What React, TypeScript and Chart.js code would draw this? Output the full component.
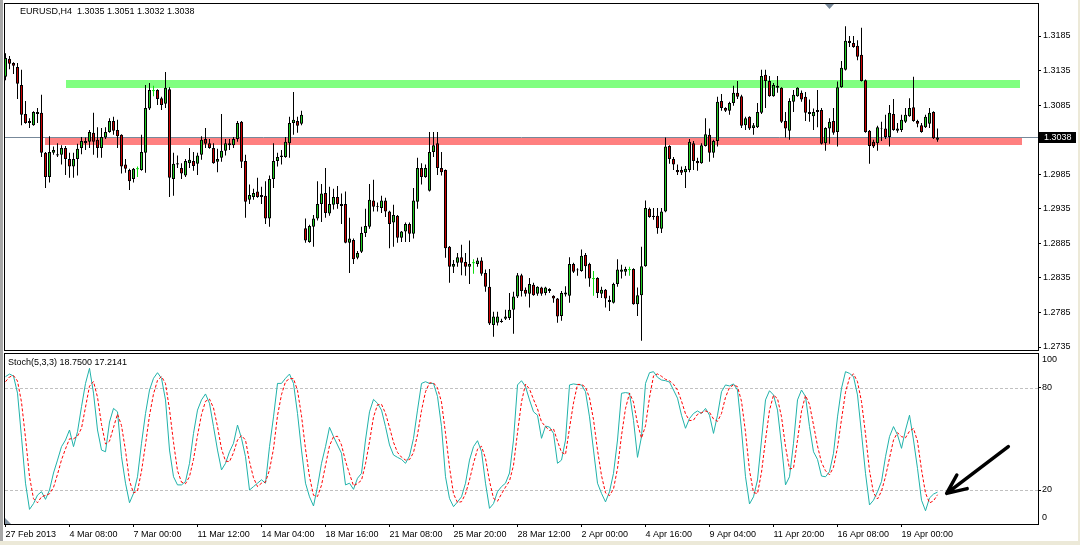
import React, { useEffect, useRef } from "react";
import { Chart, registerables } from "chart.js";
Chart.register(...registerables);

const FONT = '"Liberation Sans", Arial, sans-serif';
const SYMBOL = "EURUSD,H4";
const STOCH_NAME = "Stoch(5,3,3)";

const opens = [
  1.3126,1.3152,1.3146,1.3140,1.3114,1.3072,1.3062,1.3056,1.3075,1.3074,
  1.3016,1.2981,1.3016,1.3014,1.3013,1.3023,1.3007,1.2996,1.3007,1.3023,
  1.3033,1.3032,1.3045,1.3035,1.3023,1.3038,1.3046,1.3062,1.3049,1.3042,
  1.2999,1.2991,1.2978,1.2993,1.2991,1.3016,1.3080,1.3106,1.3107,1.3095,
  1.3087,1.3108,1.2978,1.3001,1.2994,1.2983,1.3001,1.3004,1.3000,1.3013,
  1.3036,1.3030,1.3023,1.3003,1.3009,1.3019,1.3030,1.3027,1.3036,1.3061,
  1.3004,1.2948,1.2952,1.2960,1.2955,1.2954,1.2921,1.2978,1.3004,1.3010,
  1.3010,1.3030,1.3059,1.3062,1.3058,1.2907,1.2887,1.2909,1.2921,1.2942,
  1.2958,1.2928,1.2941,1.2952,1.2942,1.2942,1.2886,1.2890,1.2864,1.2873,
  1.2900,1.2909,1.2947,1.2939,1.2936,1.2947,1.2931,1.2915,1.2925,1.2893,
  1.2902,1.2913,1.2899,1.2945,1.2994,1.2981,1.2961,1.3017,1.3030,1.2994,
  1.2991,1.2880,1.2851,1.2857,1.2865,1.2858,1.2851,1.2857,1.2855,1.2860,
  1.2842,1.2822,1.2767,1.2770,1.2771,1.2776,1.2777,1.2789,1.2808,1.2839,
  1.2818,1.2812,1.2825,1.2812,1.2821,1.2813,1.2819,1.2809,1.2805,1.2780,
  1.2811,1.2809,1.2855,1.2847,1.2845,1.2868,1.2855,1.2834,1.2835,1.2812,
  1.2818,1.2803,1.2799,1.2826,1.2844,1.2844,1.2847,1.2848,1.2797,1.2810,
  1.2852,1.2935,1.2925,1.2925,1.2906,1.2931,1.3026,1.3007,1.2991,1.2991,
  1.2988,1.2991,1.3030,1.3004,1.3001,1.3026,1.3042,1.3016,1.3033,1.3091,
  1.3081,1.3077,1.3088,1.3103,1.3098,1.3056,1.3068,1.3052,1.3053,1.3074,
  1.3129,1.3120,1.3098,1.3110,1.3110,1.3062,1.3048,1.3090,1.3098,1.3103,
  1.3097,1.3075,1.3069,1.3078,1.3078,1.3030,1.3051,1.3062,1.3046,1.3111,
  1.3136,1.3178,1.3175,1.3171,1.3158,1.3121,1.3048,1.3032,1.3030,1.3052,
  1.3051,1.3039,1.3072,1.3048,1.3049,1.3061,1.3069,1.3082,1.3062,1.3056,
  1.3053,1.3058,1.3075,1.3035
];
const highs = [
  1.3160,1.3156,1.3147,1.3146,1.3136,1.3091,1.3066,1.3076,1.3081,1.3100,
  1.3017,1.3040,1.3025,1.3030,1.3027,1.3026,1.3016,1.3016,1.3029,1.3039,
  1.3038,1.3049,1.3074,1.3053,1.3052,1.3053,1.3066,1.3068,1.3064,1.3043,
  1.3007,1.2993,1.2994,1.2996,1.3042,1.3114,1.3117,1.3113,1.3108,1.3097,
  1.3133,1.3111,1.3016,1.3012,1.3001,1.3007,1.3023,1.3017,1.3016,1.3040,
  1.3052,1.3036,1.3030,1.3022,1.3072,1.3036,1.3036,1.3039,1.3062,1.3062,
  1.3013,1.2970,1.2964,1.2980,1.2967,1.2975,1.2983,1.3030,1.3016,1.3020,
  1.3039,1.3068,1.3104,1.3068,1.3077,1.2921,1.2912,1.2926,1.2975,1.2971,
  1.2994,1.2967,1.2964,1.2968,1.2957,1.2960,1.2922,1.2892,1.2874,1.2909,
  1.2935,1.2971,1.2977,1.2944,1.2954,1.2951,1.2932,1.2941,1.2926,1.2903,
  1.2915,1.2915,1.2965,1.3009,1.3001,1.2999,1.3046,1.3046,1.3046,1.3017,
  1.2992,1.2881,1.2861,1.2871,1.2883,1.2871,1.2889,1.2862,1.2864,1.2865,
  1.2847,1.2848,1.2786,1.2786,1.2776,1.2789,1.2813,1.2815,1.2842,1.2841,
  1.2821,1.2835,1.2828,1.2823,1.2822,1.2822,1.2820,1.2810,1.2806,1.2816,
  1.2823,1.2865,1.2857,1.2849,1.2876,1.2871,1.2857,1.2845,1.2836,1.2822,
  1.2819,1.2809,1.2828,1.2862,1.2854,1.2851,1.2851,1.2849,1.2821,1.2880,
  1.2947,1.2937,1.2936,1.2936,1.2936,1.3038,1.3027,1.3010,1.2999,1.2996,
  1.2997,1.3036,1.3033,1.3009,1.3030,1.3066,1.3051,1.3035,1.3097,1.3101,
  1.3082,1.3090,1.3113,1.3120,1.3100,1.3068,1.3069,1.3059,1.3088,1.3136,
  1.3136,1.3127,1.3117,1.3127,1.3111,1.3075,1.3095,1.3107,1.3111,1.3106,
  1.3104,1.3093,1.3080,1.3107,1.3081,1.3053,1.3066,1.3081,1.3119,1.3149,
  1.3199,1.3185,1.3185,1.3179,1.3197,1.3122,1.3049,1.3035,1.3055,1.3061,
  1.3071,1.3085,1.3094,1.3059,1.3071,1.3081,1.3095,1.3126,1.3064,1.3059,
  1.3071,1.3081,1.3076,1.3051
];
const lows = [
  1.3121,1.3137,1.3130,1.3094,1.3056,1.3058,1.3052,1.3055,1.3059,1.3010,
  1.2965,1.2973,1.3013,1.3010,1.2999,1.2984,1.2980,1.2980,1.2983,1.3014,
  1.3020,1.3023,1.3013,1.3009,1.3009,1.3036,1.3045,1.3042,1.3023,1.2986,
  1.2987,1.2962,1.2973,1.2981,1.2990,1.2987,1.3078,1.3098,1.3085,1.3078,
  1.3081,1.2952,1.2954,1.2994,1.2978,1.2981,1.2994,1.2990,1.2984,1.3006,
  1.3023,1.3022,1.3000,1.2988,1.3003,1.3012,1.3020,1.3023,1.3032,1.2994,
  1.2922,1.2942,1.2948,1.2951,1.2942,1.2913,1.2909,1.2965,1.2996,1.2999,
  1.3009,1.3009,1.3042,1.3045,1.3056,1.2886,1.2886,1.2880,1.2918,1.2916,
  1.2922,1.2925,1.2934,1.2935,1.2913,1.2885,1.2842,1.2855,1.2862,1.2871,
  1.2894,1.2906,1.2931,1.2931,1.2929,1.2923,1.2878,1.2880,1.2886,1.2887,
  1.2887,1.2887,1.2892,1.2935,1.2970,1.2980,1.2960,1.3010,1.2984,1.2983,
  1.2864,1.2828,1.2842,1.2851,1.2839,1.2838,1.2826,1.2841,1.2851,1.2838,
  1.2815,1.2767,1.2750,1.2766,1.2770,1.2774,1.2774,1.2754,1.2806,1.2808,
  1.2808,1.2792,1.2809,1.2809,1.2809,1.2810,1.2813,1.2799,1.2770,1.2773,
  1.2808,1.2799,1.2842,1.2838,1.2844,1.2834,1.2822,1.2809,1.2806,1.2806,
  1.2792,1.2787,1.2798,1.2822,1.2834,1.2838,1.2838,1.2796,1.2780,1.2744,
  1.2851,1.2922,1.2919,1.2899,1.2900,1.2930,1.3000,1.2991,1.2984,1.2984,
  1.2965,1.2988,1.2991,1.2990,1.3000,1.3025,1.3003,1.3009,1.3025,1.3077,
  1.3075,1.3071,1.3084,1.3094,1.3052,1.3049,1.3049,1.3042,1.3052,1.3072,
  1.3081,1.3097,1.3097,1.3103,1.3059,1.3038,1.3035,1.3075,1.3097,1.3090,
  1.3062,1.3061,1.3049,1.3053,1.3028,1.3019,1.3029,1.3042,1.3025,1.3110,
  1.3135,1.3169,1.3168,1.3150,1.3119,1.3045,1.3000,1.3023,1.3019,1.3033,
  1.3036,1.3025,1.3048,1.3045,1.3046,1.3059,1.3068,1.3061,1.3053,1.3045,
  1.3052,1.3052,1.3036,1.3032
];
const closes = [
  1.3153,1.3145,1.3142,1.3116,1.3071,1.3059,1.3059,1.3075,1.3072,1.3016,
  1.2981,1.3017,1.3020,1.3012,1.3023,1.3007,1.2996,1.3007,1.3022,1.3033,
  1.3030,1.3046,1.3032,1.3023,1.3039,1.3046,1.3062,1.3048,1.3040,1.2996,
  1.2993,1.2975,1.2993,1.2993,1.3017,1.3081,1.3107,1.3106,1.3094,1.3085,
  1.3110,1.2980,1.3000,1.2999,1.2986,1.3004,1.3006,1.2997,1.3012,1.3035,
  1.3029,1.3023,1.3001,1.3007,1.3019,1.3030,1.3027,1.3036,1.3059,1.3003,
  1.2945,1.2955,1.2958,1.2952,1.2952,1.2921,1.2978,1.3004,1.3010,1.3012,
  1.3032,1.3059,1.3064,1.3055,1.3071,1.2889,1.2910,1.2921,1.2942,1.2957,
  1.2929,1.2942,1.2952,1.2942,1.2939,1.2886,1.2892,1.2862,1.2871,1.2900,
  1.2910,1.2948,1.2938,1.2938,1.2947,1.2931,1.2913,1.2926,1.2893,1.2902,
  1.2913,1.2899,1.2947,1.2994,1.2981,1.2994,1.3017,1.3027,1.2994,1.2988,
  1.2878,1.2851,1.2855,1.2865,1.2857,1.2851,1.2855,1.2857,1.2860,1.2841,
  1.2822,1.2769,1.2779,1.2779,1.2773,1.2779,1.2789,1.2808,1.2839,1.2816,
  1.2812,1.2826,1.2810,1.2822,1.2812,1.2821,1.2816,1.2805,1.2779,1.2813,
  1.2814,1.2855,1.2844,1.2846,1.2867,1.2852,1.2834,1.2834,1.2813,1.2818,
  1.2805,1.2800,1.2826,1.2847,1.2847,1.2848,1.2847,1.2797,1.2810,1.2852,
  1.2936,1.2923,1.2923,1.2907,1.2931,1.3025,1.3007,1.2999,1.2988,1.2987,
  1.2993,1.3032,1.3004,1.3001,1.3027,1.3043,1.3016,1.3033,1.3090,1.3081,
  1.3077,1.3088,1.3103,1.3097,1.3055,1.3066,1.3051,1.3056,1.3075,1.3127,
  1.3120,1.3098,1.3114,1.3113,1.3061,1.3051,1.3091,1.3100,1.3110,1.3093,
  1.3074,1.3072,1.3075,1.3075,1.3029,1.3052,1.3061,1.3045,1.3111,1.3139,
  1.3178,1.3175,1.3169,1.3155,1.3120,1.3046,1.3026,1.3025,1.3053,1.3051,
  1.3039,1.3074,1.3049,1.3051,1.3064,1.3071,1.3081,1.3062,1.3058,1.3046,
  1.3068,1.3074,1.3037,1.3038
];

const stochMain = [
  86.7,88.2,87,77,51,24,8.6,12,17,19,
  14.5,20,30,37.6,45.5,49.4,55.3,45.5,54.3,69,
  82.7,91.6,77,55.3,43.5,42.5,60,68,66,39.6,
  24,12.5,18,27.8,47.5,65,78.8,85.7,89,85.7,
  73,43.5,27.8,23,23,25,35.7,53.3,67,73,
  76.5,71,57.3,43.5,31.8,35.7,42.5,47.5,58.2,50.4,
  39.6,20,22,24,26,24,45.5,63,82.7,82.7,
  85.7,88.2,82.7,65,43.5,24,16,10.6,22,35.7,
  45.5,56.9,51.4,46.5,41.6,23,24,20.4,26.9,29.8,
  49.4,66,73.3,71,67,57.3,46.5,40.6,39.2,38,
  35.7,40,50.4,67,82.7,83.7,82.7,82.7,75,57.3,
  27.8,15,10.2,13,16,24,37.6,45.5,49,42.7,
  24,9.2,12,19,22,24,30,49.4,81.8,84.3,
  80.8,73,66,64,50.4,57.6,57,53.3,35.7,37.6,
  49.4,81.8,82.4,82,81.8,77.8,63,43.5,24,18,
  13,19,29.8,49.4,76.9,77.3,76.9,61,39.2,51.4,
  82.7,89,89.6,86.3,84.7,84.3,83.5,78.8,74,64,
  56.3,62,65,66.5,65,68,64,53.3,64,77.8,
  81.8,81.2,82.4,78.8,55.3,27.8,11.8,16,25.9,49.4,
  73,78.4,75.9,67,46.5,23,27.8,47.5,73,78.8,
  75,57.3,42.5,38,28.2,27.8,30.8,41.6,63,79.8,
  89.6,88.6,86.7,75.9,53.3,29.8,11.2,14,19,25,
  39.6,51.4,57.3,52.4,44.5,55.3,64,49.4,32.7,14,
  7.8,15.3,17.6,18.75
];
const stochSignal = [
  83.7,86.5,87.3,84.1,71.7,50.7,27.9,14.9,12.5,16,
  16.8,17.8,21.5,29.2,37.7,44.2,50.1,50.1,51.7,56.3,
  68.7,81.1,83.8,74.6,58.6,47.1,48.7,56.8,64.7,57.9,
  43.2,25.4,18.2,19.4,31.1,46.8,63.8,76.5,84.5,86.8,
  82.6,67.4,48.1,31.4,24.6,23.7,27.9,38,52,64.4,
  72.2,73.5,68.3,57.3,44.2,37,36.7,41.9,49.4,52,
  49.4,36.7,27.2,22,24,24.7,31.8,44.2,63.7,76.1,
  83.7,85.5,85.5,78.6,63.7,44.2,27.8,16.9,16.2,22.8,
  34.4,46,51.3,51.6,46.5,37,29.5,22.5,23.8,25.7,
  35.4,48.4,62.9,70.1,70.4,65.1,56.9,48.1,42.1,39.3,
  37.6,37.9,42,52.5,66.7,77.8,83,83,80.1,71.7,
  53.4,33.4,17.7,12.7,13.1,17.7,25.9,35.7,44,45.7,
  38.6,25.3,15.1,13.4,17.7,21.7,25.3,34.5,53.7,71.8,
  82.3,79.4,73.3,67.7,60.1,57.3,55,56,48.7,42.2,
  40.9,56.3,71.2,82.1,82.1,80.5,74.2,61.4,43.5,28.5,
  18.3,16.7,20.6,32.7,52,67.9,77,71.7,59,50.5,
  57.8,74.4,87.1,88.3,86.9,85.1,84.2,82.2,78.8,72.3,
  64.8,60.8,61.1,64.5,65.5,66.5,65.7,61.8,60.4,65,
  74.5,80.3,81.8,80.8,72.2,54,31.6,18.5,17.9,30.4,
  49.4,66.9,75.8,73.8,63.1,45.5,32.4,32.8,49.4,66.4,
  75.6,70.4,58.3,45.9,36.2,31.3,28.9,33.4,45.1,61.5,
  77.5,86,88.3,83.7,72,53,31.4,18.3,14.7,19.3,
  27.9,38.7,49.4,53.7,51.4,50.7,54.6,56.2,48.7,32,
  18.2,12.4,13.6,17.2141
];

const timeTickIdx = [0,16,32,48,64,80,96,112,128,144,160,176,192,208,224];
const timeLabels = [
  "27 Feb 2013","4 Mar 08:00","7 Mar 00:00","11 Mar 12:00","14 Mar 04:00",
  "18 Mar 16:00","21 Mar 08:00","25 Mar 20:00","28 Mar 12:00","2 Apr 00:00",
  "4 Apr 16:00","9 Apr 04:00","11 Apr 20:00","16 Apr 08:00","19 Apr 00:00"
];
const priceTicks = [1.2735,1.2785,1.2835,1.2885,1.2935,1.2985,1.3085,1.3135,1.3185];
const stochLabelTicks = [0,20,80,100];
const stochLevels = [20,80];

// rectangles drawn on the chart (bar index range, price range)
const zoneFrom = [15.1, 9.9];
const zoneTo = [253.6, 254.0];
const zoneHigh = [1.3121, 1.3037];
const zoneLow = [1.3110, 1.3027];
const zoneColors = ["#80FF80", "#FF8080"];

// arrow object in the stochastic window (bar index, stochastic value): tail, tip
const arrowIdx = [250.7, 235.3];
const arrowVal = [45.5, 18];

const X_MIN = -0.125;
const X_MAX = 258.125;
const Y_MIN = 1.273066;
const Y_MAX = 1.323131;

const BULL = "#22CC22";
const BEAR = "#CC0000";
const DOJI = "#11DD11";

export default function App() {
  const mainRef = useRef<HTMLCanvasElement>(null);
  const stochRef = useRef<HTMLCanvasElement>(null);

  useEffect(() => {
    const n = opens.length;
    const idx = Array.from({ length: n }, (_, i) => i);
    const isDoji = (i: number) => opens[i] === closes[i];
    const last = n - 1;
    const font9 = `9px ${FONT}`;

    const zeroPad = (s: any) => {
      s.paddingLeft = 0; s.paddingRight = 0; s.paddingTop = 0; s.paddingBottom = 0;
    };

    const frame = (ctx: CanvasRenderingContext2D, a: any) => {
      ctx.save();
      ctx.strokeStyle = "#000";
      ctx.lineWidth = 1;
      ctx.strokeRect(a.left - 0.5, a.top - 0.5, a.right - a.left + 1, a.bottom - a.top + 1);
      ctx.restore();
    };

    const mainDecor = {
      id: "mainDecor",
      beforeDatasetsDraw(chart: any) {
        const { ctx, chartArea: a, scales } = chart;
        const x = scales.x, y = scales.y;
        ctx.save();
        ctx.beginPath();
        ctx.rect(a.left, a.top, a.right - a.left, a.bottom - a.top);
        ctx.clip();
        zoneFrom.forEach((f, k) => {
          const x1 = Math.round(x.getPixelForValue(f));
          const x2 = Math.round(x.getPixelForValue(zoneTo[k]));
          const y1 = Math.round(y.getPixelForValue(zoneHigh[k]));
          const y2 = Math.round(y.getPixelForValue(zoneLow[k]));
          ctx.fillStyle = zoneColors[k];
          ctx.fillRect(x1, y1, x2 - x1, y2 - y1);
        });
        const by = Math.floor(y.getPixelForValue(closes[last])) + 0.5;
        ctx.strokeStyle = "#778899";
        ctx.lineWidth = 1;
        ctx.beginPath();
        ctx.moveTo(a.left, by);
        ctx.lineTo(a.right, by);
        ctx.stroke();
        ctx.restore();
      },
      afterDraw(chart: any) {
        const { ctx, chartArea: a, scales } = chart;
        const y = scales.y;
        frame(ctx, a);
        ctx.save();
        // header
        ctx.fillStyle = "#000";
        ctx.font = font9;
        ctx.textBaseline = "middle";
        ctx.textAlign = "left";
        const hdr = `${SYMBOL}  ${opens[last].toFixed(4)} ${highs[last].toFixed(4)} ${lows[last].toFixed(4)} ${closes[last].toFixed(4)}`;
        ctx.fillText(hdr, 20, a.top + 8);
        // chart shift marker
        ctx.fillStyle = "#778899";
        ctx.beginPath();
        ctx.moveTo(825, a.top);
        ctx.lineTo(834, a.top);
        ctx.lineTo(829.5, a.top + 5);
        ctx.closePath();
        ctx.fill();
        // bid price box
        const py = y.getPixelForValue(closes[last]);
        const top = Math.round(py - 5.5);
        ctx.fillStyle = "#000";
        ctx.fillRect(a.right + 1, top, 37, 11);
        ctx.fillStyle = "#fff";
        ctx.fillText(closes[last].toFixed(4), a.right + 6, top + 5.5);
        ctx.restore();
      },
    };

    const stochDecor = {
      id: "stochDecor",
      beforeDatasetsDraw(chart: any) {
        const { ctx, chartArea: a, scales } = chart;
        const y = scales.y;
        ctx.save();
        ctx.strokeStyle = "#C0C0C0";
        ctx.lineWidth = 1;
        ctx.setLineDash([3, 2]);
        stochLevels.forEach((lv) => {
          const py = Math.round(y.getPixelForValue(lv)) + 0.5;
          ctx.beginPath();
          ctx.moveTo(a.left, py);
          ctx.lineTo(a.right, py);
          ctx.stroke();
        });
        ctx.restore();
      },
      afterDraw(chart: any) {
        const { ctx, chartArea: a, scales } = chart;
        const x = scales.x, y = scales.y;
        frame(ctx, a);
        ctx.save();
        ctx.font = font9;
        ctx.fillStyle = "#000";
        ctx.textBaseline = "middle";
        ctx.textAlign = "left";
        ctx.fillText(
          `${STOCH_NAME} ${stochMain[last].toFixed(4)} ${stochSignal[last].toFixed(4)}`,
          8, a.top + 9
        );
        stochLabelTicks.forEach((v) => {
          const py = Math.min(Math.max(y.getPixelForValue(v), a.top + 6), a.bottom - 6);
          ctx.fillText(String(v), a.right + 4, py);
        });
        // corner marker
        ctx.fillStyle = "#8090A0";
        ctx.beginPath();
        ctx.moveTo(a.left, a.bottom - 6);
        ctx.lineTo(a.left, a.bottom);
        ctx.lineTo(a.left + 6, a.bottom);
        ctx.closePath();
        ctx.fill();
        // arrow
        const tx = x.getPixelForValue(arrowIdx[0]), ty = y.getPixelForValue(arrowVal[0]);
        const hx = x.getPixelForValue(arrowIdx[1]), hy = y.getPixelForValue(arrowVal[1]);
        const ang = Math.atan2(ty - hy, tx - hx);
        ctx.strokeStyle = "#000";
        ctx.lineWidth = 3.5;
        ctx.lineCap = "round";
        ctx.lineJoin = "round";
        ctx.beginPath();
        ctx.moveTo(tx, ty);
        ctx.lineTo(hx, hy);
        ctx.moveTo(hx + 21 * Math.cos(ang - 0.42), hy + 21 * Math.sin(ang - 0.42));
        ctx.lineTo(hx, hy);
        ctx.lineTo(hx + 21 * Math.cos(ang + 0.42), hy + 21 * Math.sin(ang + 0.42));
        ctx.stroke();
        ctx.restore();
      },
    };

    const mainChart = new Chart(mainRef.current as HTMLCanvasElement, {
      type: "bar",
      data: {
        datasets: [
          {
            label: "body",
            order: 0,
            data: idx.map((i) => ({
              x: i,
              y: isDoji(i) ? [opens[i] - 0.00007, opens[i] + 0.00007] : [opens[i], closes[i]],
            })),
            backgroundColor: idx.map((i) => (isDoji(i) ? DOJI : closes[i] > opens[i] ? BULL : BEAR)),
            borderColor: "#000",
            borderWidth: idx.map((i) => (isDoji(i) ? 0 : 1)),
            borderSkipped: false,
            barThickness: 3,
            grouped: false,
            inflateAmount: 0,
          } as any,
          {
            label: "wick",
            order: 1,
            data: idx.map((i) => ({ x: i, y: [lows[i], highs[i]] })),
            backgroundColor: idx.map((i) => (isDoji(i) ? DOJI : "#000")),
            borderWidth: 0,
            barThickness: 1,
            grouped: false,
            inflateAmount: 0,
          } as any,
        ],
      },
      options: {
        responsive: false,
        animation: false,
        events: [],
        layout: { padding: { left: 5, top: 4, right: 0, bottom: 2 }, autoPadding: false } as any,
        plugins: { legend: { display: false }, tooltip: { enabled: false } },
        scales: {
          x: { type: "linear", min: X_MIN, max: X_MAX, display: false, offset: false },
          y: {
            type: "linear",
            position: "right",
            min: Y_MIN,
            max: Y_MAX,
            afterBuildTicks: (s: any) => { s.ticks = priceTicks.map((v) => ({ value: v })); },
            afterFit: (s: any) => { s.width = 42; zeroPad(s); },
            ticks: {
              callback: (v: any) => Number(v).toFixed(4),
              font: { family: FONT, size: 9 },
              color: "#000",
              padding: 2,
            },
            grid: { drawOnChartArea: false, drawTicks: true, tickLength: 3, tickColor: "#000" },
            border: { display: false },
          },
        },
      } as any,
      plugins: [mainDecor],
    });

    const stochChart = new Chart(stochRef.current as HTMLCanvasElement, {
      type: "line",
      data: {
        datasets: [
          {
            label: "signal",
            data: idx.map((i) => ({ x: i, y: stochSignal[i] })),
            borderColor: "#FF0000",
            borderWidth: 1,
            borderDash: [3, 2],
            pointRadius: 0,
            tension: 0,
            fill: false,
          },
          {
            label: "main",
            data: idx.map((i) => ({ x: i, y: stochMain[i] })),
            borderColor: "#20B2AA",
            borderWidth: 1,
            pointRadius: 0,
            tension: 0,
            fill: false,
          },
        ],
      },
      options: {
        responsive: false,
        animation: false,
        events: [],
        layout: { padding: { left: 5, top: 2, right: 0, bottom: 0 }, autoPadding: false } as any,
        plugins: { legend: { display: false }, tooltip: { enabled: false } },
        scales: {
          x: {
            type: "linear",
            min: X_MIN,
            max: X_MAX,
            offset: false,
            afterBuildTicks: (s: any) => { s.ticks = timeTickIdx.map((v) => ({ value: v })); },
            afterFit: (s: any) => { s.height = 21; zeroPad(s); },
            ticks: {
              autoSkip: false,
              maxRotation: 0,
              minRotation: 0,
              align: "start",
              padding: 2,
              font: { family: FONT, size: 9 },
              color: "#000",
              callback: (v: any) => {
                const k = timeTickIdx.indexOf(Number(v));
                return k >= 0 ? timeLabels[k] : "";
              },
            },
            grid: { drawOnChartArea: false, drawTicks: true, tickLength: 3, tickColor: "#000" },
            border: { display: false },
          },
          y: {
            type: "linear",
            position: "right",
            min: 0,
            max: 100,
            afterBuildTicks: (s: any) => { s.ticks = stochLevels.map((v) => ({ value: v })); },
            afterFit: (s: any) => { s.width = 42; zeroPad(s); },
            ticks: { display: false },
            grid: { drawOnChartArea: false, drawTicks: true, tickLength: 3, tickColor: "#000" },
            border: { display: false },
          },
        },
      } as any,
      plugins: [stochDecor],
    });

    return () => {
      mainChart.destroy();
      stochChart.destroy();
    };
  }, []);

  return (
    <div style={{ position: "fixed", left: 0, top: 0, width: 1080, height: 545, background: "#fff", overflow: "hidden" }}>
      <div style={{ position: "absolute", left: 0, top: 0, width: 3, height: 545, background: "#A8A8A8" }} />
      <div style={{ position: "absolute", left: 1078, top: 0, width: 2, height: 545, background: "#ECE9D8" }} />
      <div style={{ position: "absolute", left: 0, top: 541, width: 1080, height: 4, background: "#ECE9D8" }} />
      <canvas ref={mainRef} width={1080} height={352} style={{ position: "absolute", left: 0, top: 0, width: 1080, height: 352 }} />
      <canvas ref={stochRef} width={1080} height={193} style={{ position: "absolute", left: 0, top: 352, width: 1080, height: 193 }} />
    </div>
  );
}
